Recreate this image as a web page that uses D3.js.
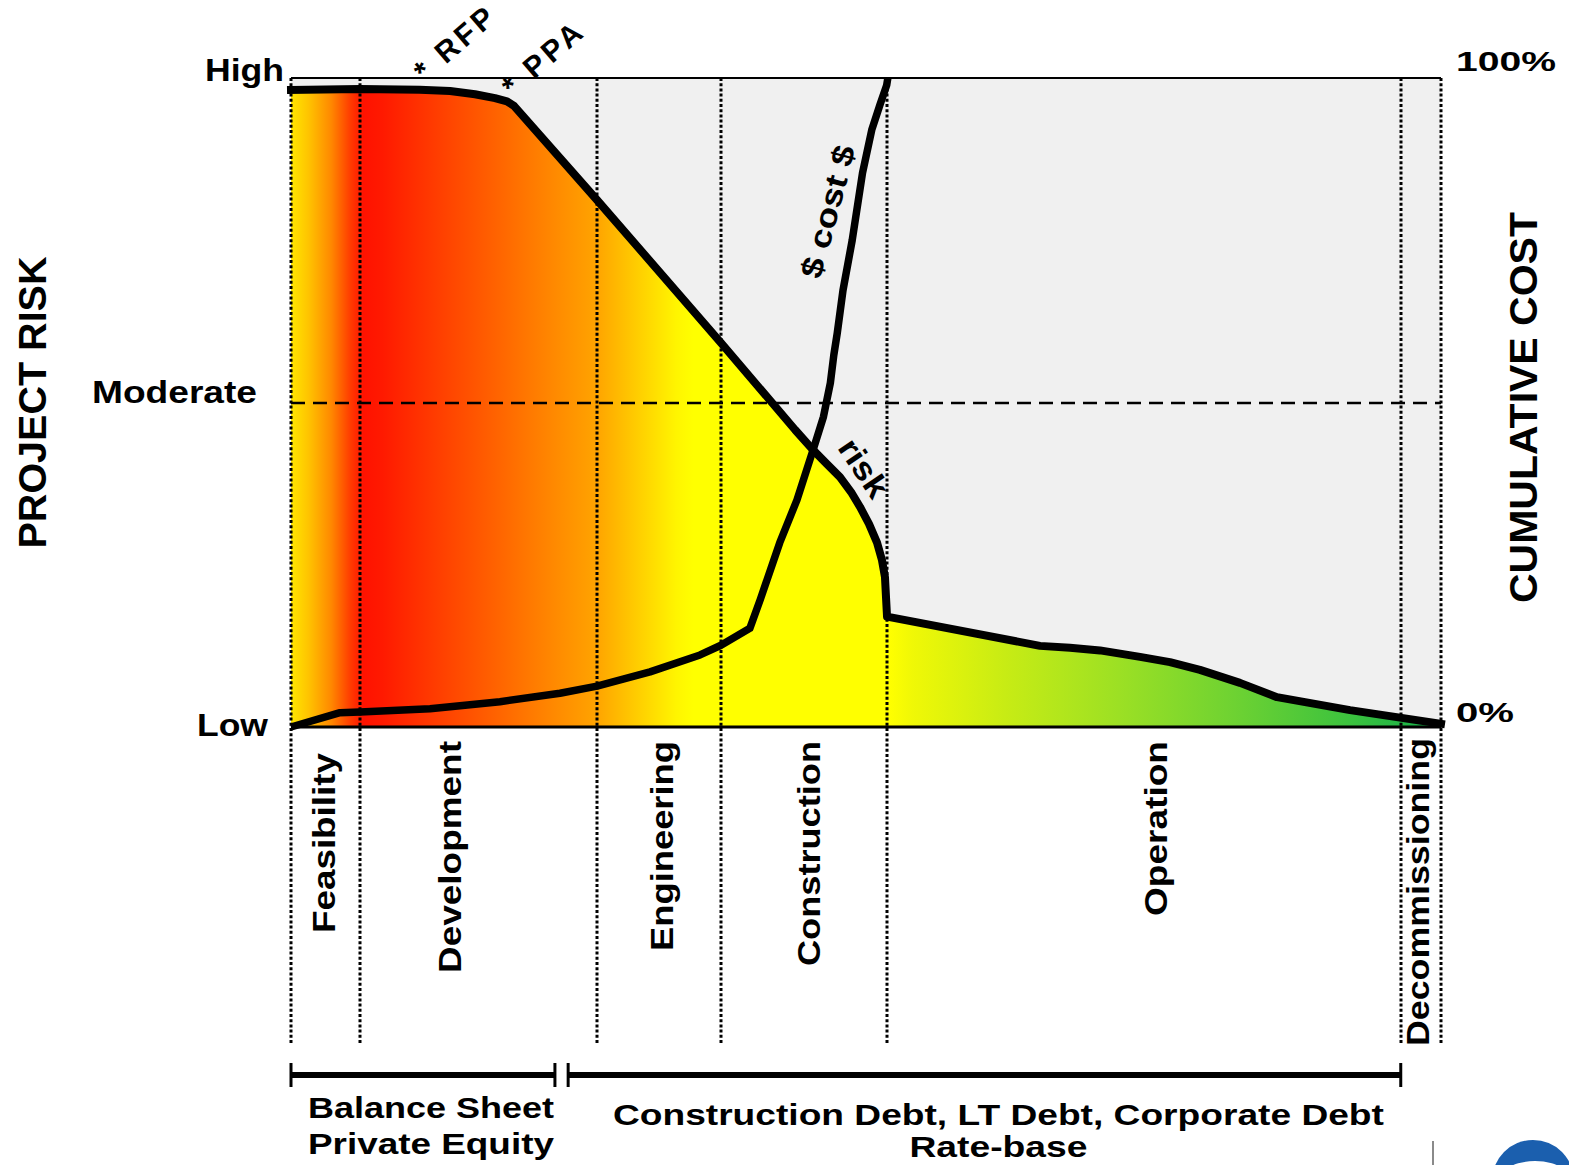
<!DOCTYPE html>
<html>
<head>
<meta charset="utf-8">
<script src="https://cdn.jsdelivr.net/npm/d3@7"></script>
<style>
  html, body { margin: 0; padding: 0; background: #fff; }
  svg { display: block; font-family: "Liberation Sans", Arial, Helvetica, sans-serif; }
</style>
</head>
<body>
<svg id="chart" width="1569" height="1165"></svg>
<script>
// ---- Project life-cycle data (timeline runs 0 → 100) ----
const phaseNames   = ["Feasibility", "Development", "Engineering", "Construction", "Operation", "Decommissioning"];
const phaseStarts  = [0, 6, 26.6, 37.4, 51.8, 96.5];
const phaseEnds    = [6, 26.6, 37.4, 51.8, 96.5, 100];
const phaseLabelAt = [2.9, 13.9, 32.3, 45.1, 75.3, 98.0];

const riskLevels      = ["Low", "Moderate", "High"];
const riskLevelValues = [0, 50, 100];
const costTickLabels  = ["0%", "100%"];
const costTickValues  = [0, 100];

// Project risk over time (0 = low, 100 = high)
const riskTime  = [0, 6.0, 11.2, 13.83, 16.0, 17.74, 18.78, 19.39,
                   26.61, 37.39, 43.83, 45.39, 46.61, 47.74, 48.7, 49.48, 50.26, 50.96,
                   51.39, 51.65, 51.74, 51.83, 65.13, 67.74, 70.35, 73.83, 76.43, 79.04,
                   82.52, 85.74, 92.09, 100];
const riskValue = [98.15, 98.3, 98.2, 98.0, 97.5, 96.9, 96.4, 95.7,
                   81.2, 59.2, 45.8, 42.7, 40.5, 38.5, 36.2, 33.9, 31.3, 28.4,
                   25.7, 23.1, 20.0, 17.0, 12.5, 12.2, 11.8, 10.8, 10.0, 8.8,
                   6.8, 4.6, 2.6, 0.5];

// Cumulative cost over time (% of total)
const costTime  = [0, 4.26, 6.0, 12.09, 18.17, 23.39, 26.61, 31.22, 35.57, 37.39,
                   39.9, 40.8, 42.5, 44.0, 45.4, 46.3, 46.9, 47.2, 47.5, 48.0,
                   48.8, 49.7, 50.5, 51.2, 51.8, 51.9];
const costValue = [0, 2.2, 2.3, 2.8, 3.9, 5.2, 6.3, 8.5, 11.1, 12.6,
                   15.2, 19.6, 28.4, 35.0, 42.7, 47.8, 53.0, 57.3, 60.7, 67.3,
                   75.0, 85.4, 92.0, 95.8, 98.9, 100];

// Milestones
const milestoneNames = ["RFP", "PPA"];
const milestoneTime  = [11.65, 19.3];

// Financing sources by period
const financeLines  = [["Balance Sheet", "Private Equity"],
                       ["Construction Debt, LT Debt, Corporate Debt", "Rate-base"]];
const financeStarts = [0, 24.1];
const financeEnds   = [22.95, 96.5];

// ---- Layout ----
const svg = d3.select("#chart");
const plot = { left: 291, right: 1441, top: 78, bottom: 727 };
const phaseLineBottom = 1045;

const x     = d3.scaleLinear().domain([0, 100]).range([plot.left, plot.right]);
const yRisk = d3.scaleLinear().domain([0, 100]).range([plot.bottom, plot.top]);
const yCost = d3.scaleLinear().domain([0, 100]).range([plot.bottom, plot.top]);

const riskPts = riskTime.map((t, i) => [t, riskValue[i]]);
const costPts = costTime.map((t, i) => [t, costValue[i]]);

// Risk colour ramp along the timeline
const rampStops = [
  [0, "#ffe600"], [1.5, "#ffc400"], [3.5, "#ff8800"], [5.2, "#ff3a00"], [6.3, "#ff1200"],
  [8, "#ff1a00"], [12, "#ff3800"], [18, "#ff6400"], [23, "#ff8a00"], [26.6, "#ffa400"],
  [30, "#ffcc00"], [33.5, "#fff500"], [35, "#ffff00"], [52, "#ffff00"], [54, "#f0f806"],
  [62, "#c8ec14"], [72, "#9ce024"], [82, "#6ed232"], [92, "#3cc23e"], [100, "#12ae4a"]
];
const defs = svg.append("defs");
const grad = defs.append("linearGradient")
  .attr("id", "riskRamp")
  .attr("gradientUnits", "userSpaceOnUse")
  .attr("x1", plot.left).attr("x2", plot.right)
  .attr("y1", 0).attr("y2", 0);
grad.selectAll("stop").data(rampStops).join("stop")
  .attr("offset", d => d[0] / 100)
  .attr("stop-color", d => d[1]);

// Plot background
svg.append("rect")
  .attr("x", plot.left).attr("y", plot.top)
  .attr("width", plot.right - plot.left).attr("height", plot.bottom - plot.top)
  .attr("fill", "#f0f0f0");

// Area under the risk curve
const curve = d3.curveLinear;
svg.append("path")
  .datum(riskPts)
  .attr("d", d3.area().x(d => x(d[0])).y0(yRisk(0)).y1(d => yRisk(d[1])).curve(curve))
  .attr("fill", "url(#riskRamp)");

// Phase boundaries
const boundaries = phaseStarts.concat([phaseEnds[phaseEnds.length - 1]]);
svg.append("g").selectAll("line").data(boundaries).join("line")
  .attr("x1", d => Math.round(x(d))).attr("x2", d => Math.round(x(d)))
  .attr("y1", plot.top).attr("y2", phaseLineBottom)
  .attr("stroke", "#000").attr("stroke-width", 3)
  .attr("stroke-dasharray", "3,2.2");

// Moderate risk guide
const yMod = Math.round(yRisk(50));
svg.append("line")
  .attr("x1", plot.left).attr("x2", plot.right)
  .attr("y1", yMod).attr("y2", yMod)
  .attr("stroke", "#000").attr("stroke-width", 2.6)
  .attr("stroke-dasharray", "14,8");

// Frame: top and baseline
svg.append("line")
  .attr("x1", plot.left).attr("x2", plot.right)
  .attr("y1", plot.top).attr("y2", plot.top)
  .attr("stroke", "#000").attr("stroke-width", 1.8);
svg.append("line")
  .attr("x1", plot.left).attr("x2", plot.right)
  .attr("y1", plot.bottom).attr("y2", plot.bottom)
  .attr("stroke", "#000").attr("stroke-width", 3);

// Curves
const riskLine = d3.line().x(d => x(d[0])).y(d => yRisk(d[1])).curve(curve);
const costLine = d3.line().x(d => x(d[0])).y(d => yCost(d[1])).curve(curve);

svg.append("path").datum(costPts)
  .attr("d", costLine)
  .attr("fill", "none").attr("stroke", "#000")
  .attr("stroke-width", 7.5).attr("stroke-linejoin", "round");

svg.append("path").datum(riskPts)
  .attr("d", riskLine)
  .attr("fill", "none").attr("stroke", "#000")
  .attr("stroke-width", 8).attr("stroke-linejoin", "round")
  .attr("stroke-linecap", "square");

// ---- Text helpers ----
function addText(parent, str, opts) {
  const t = parent.append("text")
    .text(str)
    .attr("font-size", opts.size || 30)
    .attr("font-weight", opts.weight || "bold")
    .attr("fill", "#000")
    .attr("text-anchor", opts.anchor || "start");
  if (opts.transform) t.attr("transform", opts.transform);
  else t.attr("x", opts.x).attr("y", opts.y);
  if (opts.length) {
    t.attr("textLength", opts.length)
     .attr("lengthAdjust", opts.adjust || "spacingAndGlyphs");
  }
  if (opts.baseline) t.attr("dominant-baseline", opts.baseline);
  return t;
}

// Risk level labels (left)
const riskLabelStyle = [
  { dx: -23, dy: 9,  len: 71 },   // Low
  { dx: -34, dy: 0.5, len: 165 }, // Moderate
  { dx: -7,  dy: 3,  len: 79 }    // High
];
riskLevels.forEach((name, i) => {
  const s = riskLabelStyle[i];
  addText(svg, name, {
    x: plot.left + s.dx, y: yRisk(riskLevelValues[i]) + s.dy,
    anchor: "end", size: 31, length: s.len
  });
});

// Cost tick labels (right)
const costLabelStyle = [
  { dy: -5, len: 58 },   // 0%
  { dy: -7, len: 100 }   // 100%
];
costTickLabels.forEach((name, i) => {
  const s = costLabelStyle[i];
  addText(svg, name, {
    x: plot.right + 15, y: yCost(costTickValues[i]) + s.dy,
    anchor: "start", size: 28, length: s.len
  });
});

// Axis titles
addText(svg, "PROJECT RISK", {
  transform: `translate(46,${(plot.top + plot.bottom) / 2}) rotate(-90)`,
  anchor: "middle", size: 39, length: 292
});
addText(svg, "CUMULATIVE COST", {
  transform: `translate(1537,${(plot.top + plot.bottom) / 2 + 5}) rotate(-90)`,
  anchor: "middle", size: 39, length: 391
});

// Phase names beneath the axis
const phaseLabelLen = [180, 232, 210, 225, 175, 308];
const phaseLabelTop = [26, 14, 14, 14, 14, 11];
phaseNames.forEach((name, i) => {
  addText(svg, name, {
    transform: `translate(${x(phaseLabelAt[i])},${plot.bottom + phaseLabelTop[i]}) rotate(-90)`,
    anchor: "end", size: 31, baseline: "central", length: phaseLabelLen[i]
  });
});

// Curve labels
const riskAt = d3.scaleLinear().domain(riskTime).range(riskValue);
addText(svg, "risk", {
  transform: `translate(${x(49.8)},${yRisk(39.9)}) rotate(56)`,
  anchor: "middle", size: 32, length: 64, baseline: "central"
});
addText(svg, "$ cost $", {
  transform: `translate(${x(46.7)},${yCost(79.4)}) rotate(-75)`,
  anchor: "middle", size: 31, length: 136, baseline: "central"
});

// Milestones along the top
milestoneNames.forEach((name, i) => {
  const mx = x(milestoneTime[i]);
  const my = yRisk(riskAt(milestoneTime[i])) - 7;
  addText(svg, "* " + name, {
    transform: `translate(${mx},${my}) rotate(-41)`,
    anchor: "start", size: 30, length: 95, adjust: "spacing"
  });
});

// Financing periods
const barY = 1075;
const fin = svg.append("g");
financeStarts.forEach((s, i) => {
  const x0 = x(s), x1 = x(financeEnds[i]);
  fin.append("line").attr("x1", x0).attr("x2", x1).attr("y1", barY).attr("y2", barY)
    .attr("stroke", "#000").attr("stroke-width", 6);
  [x0, x1].forEach(xx => fin.append("line")
    .attr("x1", xx).attr("x2", xx).attr("y1", barY - 12).attr("y2", barY + 12)
    .attr("stroke", "#000").attr("stroke-width", 3));
});
const financeTextStyle = [
  { dx: 8,  rows: [{ y: 1118, len: 246 }, { y: 1154, len: 246 }] },
  { dx: 14, rows: [{ y: 1125, len: 771 }, { y: 1157, len: 178 }] }
];
financeLines.forEach((rows, i) => {
  const st = financeTextStyle[i];
  const cx = (x(financeStarts[i]) + x(financeEnds[i])) / 2 + st.dx;
  rows.forEach((r, j) => addText(fin, r, {
    x: cx, y: st.rows[j].y, anchor: "middle", size: 29, length: st.rows[j].len
  }));
});

// Corner mark
svg.append("line").attr("x1", 1433).attr("x2", 1433).attr("y1", 1141).attr("y2", 1165)
  .attr("stroke", "#8a8a8a").attr("stroke-width", 2);
svg.append("circle").attr("cx", 1533).attr("cy", 1181).attr("r", 41).attr("fill", "#1b5fae");
svg.append("ellipse").attr("cx", 1535).attr("cy", 1192).attr("rx", 44).attr("ry", 31).attr("fill", "#fff");
</script>
</body>
</html>
